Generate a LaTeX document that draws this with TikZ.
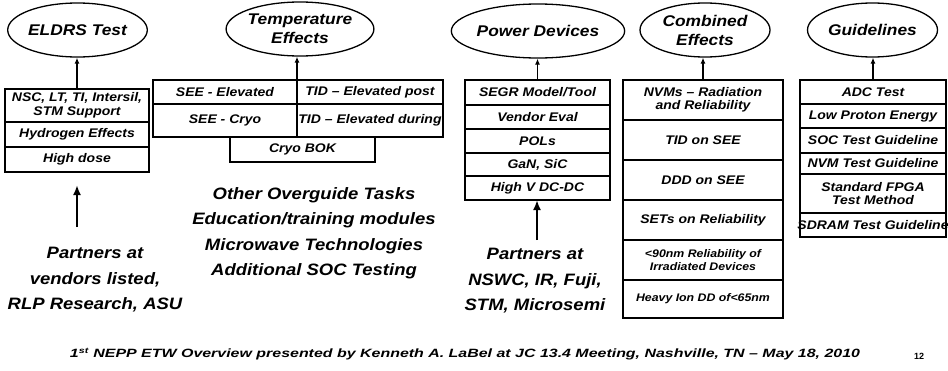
\documentclass[tikz,border=0pt]{standalone}
\usepackage{fontspec}
\usepackage{graphicx}
\usetikzlibrary{shapes.geometric,arrows.meta}
\newfontfamily\labfont[FakeStretch=1.12,Ligatures=TeX]{Liberation Sans}
\newfontfamily\footfont[Ligatures=TeX]{Liberation Sans}
\newcommand{\boxfont}{\labfont\bfseries\itshape\fontsize{12.5}{13.5}\selectfont}
\newcommand{\smallboxfont}{\labfont\bfseries\itshape\fontsize{11}{12.5}\selectfont}
\newcommand{\ovalfont}{\labfont\bfseries\itshape\fontsize{15.5}{19}\selectfont}
\newcommand{\bigfont}{\labfont\bfseries\itshape\fontsize{16.5}{25.5}\selectfont}
\newcommand{\cellat}[6]{\node[cell, minimum width={(#4-#2)*1pt}, minimum height={(#5-#3)*1pt}] (#1) at ({(#2+#4)/2},{(#3+#5)/2}) {#6};}
\tikzset{
  cell/.style={draw, line width=1.3pt, inner sep=0pt, outer sep=0pt, align=center, font=\boxfont},
  oval/.style={ellipse, draw, line width=1.3pt, minimum width=130pt, minimum height=54pt, inner sep=0pt, align=center, font=\ovalfont},
  arr/.style={-{Latex[length=6pt,width=5pt]}, line width=1.3pt},
  bigarr/.style={-{Latex[length=10pt,width=8pt]}, line width=2.8pt},
  big/.style={align=center, font=\bigfont, inner sep=0pt}
}
\begin{document}
\begin{tikzpicture}[x=1pt,y=-1pt]
\useasboundingbox[fill=white] (0,0) rectangle (948,370);
% ellipses
\node[oval] (eldrs) at (77.5,30) {ELDRS Test};
\node[oval] (temp) at (300,29) {Temperature\\Effects};
\node[oval] (power) at (538,31) {Power Devices};
\node[oval] (comb) at (705,30) {Combined\\Effects};
\node[oval] (guide) at (872.5,30) {Guidelines};
% ELDRS
\cellat{e1}{5}{89}{149}{122}{NSC, LT, TI, Intersil,\\STM Support}
\cellat{e2}{5}{122}{149}{147}{Hydrogen Effects}
\cellat{e3}{5}{147}{149}{172}{High dose}
% Temperature
\cellat{t5}{230}{137}{375}{162}{Cryo BOK}
\cellat{t1}{153}{80}{297}{104}{SEE - Elevated}
\cellat{t2}{297}{80}{443}{104}{TID – Elevated post}
\cellat{t3}{153}{104}{297}{137}{SEE - Cryo}
\cellat{t4}{297}{104}{443}{137}{TID – Elevated during}
% Power
\cellat{p1}{465}{80}{610}{105}{SEGR Model/Tool}
\cellat{p2}{465}{105}{610}{129}{Vendor Eval}
\cellat{p3}{465}{129}{610}{153}{POLs}
\cellat{p4}{465}{153}{610}{176}{GaN, SiC}
\cellat{p5}{465}{176}{610}{200}{High V DC-DC}
% Combined
\cellat{c1}{623}{80}{783}{120}{NVMs – Radiation\\and Reliability}
\cellat{c2}{623}{120}{783}{160}{TID on SEE}
\cellat{c3}{623}{160}{783}{200}{DDD on SEE}
\cellat{c4}{623}{200}{783}{240}{SETs on Reliability}
\cellat{c5}{623}{240}{783}{280}{\smallboxfont <90nm Reliability of\\\smallboxfont Irradiated Devices}
\cellat{c6}{623}{280}{783}{318}{\smallboxfont Heavy Ion DD of<65nm}
% Guidelines
\cellat{g1}{800}{80}{946}{104}{ADC Test}
\cellat{g2}{800}{104}{946}{128}{Low Proton Energy}
\cellat{g3}{800}{128}{946}{153}{SOC Test Guideline}
\cellat{g4}{800}{153}{946}{174}{NVM Test Guideline}
\cellat{g5}{800}{174}{946}{213}{Standard FPGA\\Test Method}
\cellat{g6}{800}{213}{946}{237}{\makebox[140pt][c]{SDRAM Test Guideline}}
% arrows to ellipses
\draw[arr] (e1.north) -- (e1.north |- eldrs.south);
\draw[arr] (t1.north east) -- (t1.north east |- temp.south);
\draw[arr] (p1.north) -- (p1.north |- power.south);
\draw[arr] (c1.north) -- (c1.north |- comb.south);
\draw[arr] (g1.north) -- (g1.north |- guide.south);
% bottom texts
\node[big] (part1) at (95,280) {Partners at\\vendors listed,\\RLP Research, ASU};
\node[big] (other) at (314,233) {Other Overguide Tasks\\Education/training modules\\Microwave Technologies\\Additional SOC Testing};
\node[big] (part2) at (535,281) {Partners at\\NSWC, IR, Fuji,\\STM, Microsemi};
\coordinate (a1s) at (77,227);
\coordinate (a1e) at (77,185);
\draw[bigarr] (a1s) -- (a1e);
\coordinate (a2) at (537,240);
\draw[bigarr] (a2) -- (a2 |- p5.south);
% footer
\node[inner sep=0pt] (foot) at (465,354) {\resizebox{790pt}{\height}{\footfont\bfseries\itshape\fontsize{12}{13}\selectfont 1\textsuperscript{st} NEPP ETW Overview presented by Kenneth A. LaBel at JC 13.4 Meeting, Nashville, TN – May 18, 2010}};
\node[inner sep=0pt] (pg) at (919,356) {\footfont\bfseries\fontsize{9}{10}\selectfont 12};
\end{tikzpicture}
\end{document}
